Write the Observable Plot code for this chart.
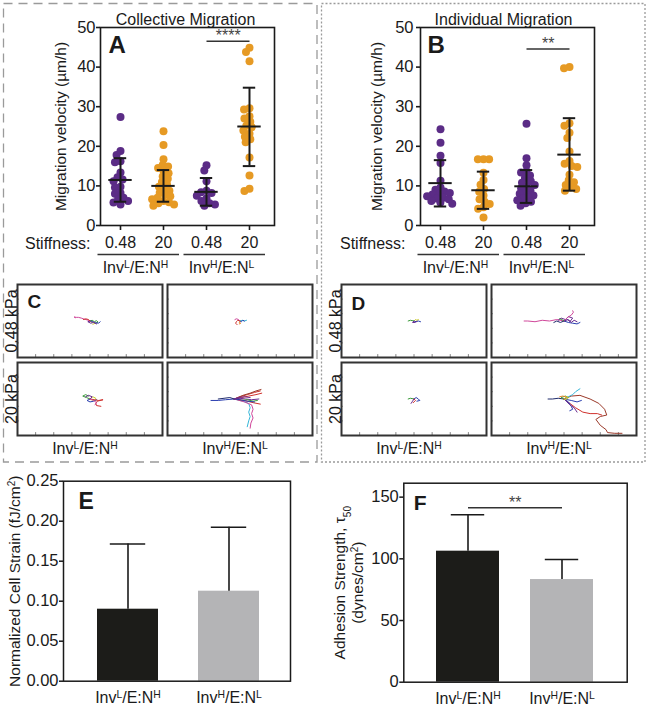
<!DOCTYPE html>
<html><head><meta charset="utf-8">
<script src="https://cdn.jsdelivr.net/npm/d3@7"></script>
<script src="https://cdn.jsdelivr.net/npm/@observablehq/plot@0.6"></script>
<style>
body{margin:0;background:#fff;}
#root{position:relative;width:649px;height:709px;overflow:hidden;background:#fff;}
</style></head><body><div id="root"></div>
<script>
// ---------------- DATA ----------------
// Panels A & B: categories (stiffness within invasiveness group)
const cats = ["L-0.48", "L-20", "H-0.48", "H-20"];
const stiffnessLabels = ["0.48", "20", "0.48", "20"];
const groupLabels = ["Inv^{L}/E:N^{H}", "Inv^{H}/E:N^{L}"];
const groupFirst = ["L-0.48", "H-0.48"];
const groupLast = ["L-20", "H-20"];

// Collective migration velocity (µm/h)
const colL048 = [27.4, 18.8, 17.8, 16.2, 16.0, 13.4, 12.2, 11.6, 11.2, 9.8, 9.6, 8.2, 8.0, 7.0, 6.6, 6.2, 5.8, 5.3];
const colL20 = [23.8, 20.3, 16.7, 15.3, 14.9, 14.5, 13.8, 13.2, 12.4, 11.8, 11.0, 10.4, 9.8, 9.2, 8.8, 8.3, 7.8, 7.4, 7.0, 6.6, 6.2, 5.9, 5.6, 5.3, 5.0];
const colH048 = [15.2, 13.9, 11.2, 8.8, 8.4, 8.2, 7.5, 6.8, 6.2, 5.6, 5.3, 5.0];
const colH20 = [44.9, 43.8, 41.5, 29.6, 29.3, 27.6, 27.0, 26.2, 25.2, 24.8, 24.0, 23.2, 22.4, 21.8, 21.0, 17.2, 12.6, 9.3, 8.7];
const colMean = [11.5, 10.0, 8.5, 25.0];
const colLo = [6.0, 6.0, 5.0, 15.0];
const colHi = [17.0, 14.0, 12.0, 34.8];

// Individual migration velocity (µm/h)
const indL048 = [24.3, 20.9, 17.6, 15.8, 11.3, 9.6, 9.0, 8.6, 8.2, 8.0, 7.8, 7.4, 7.0, 6.8, 6.6, 6.2, 5.8, 5.5];
const indL20 = [16.7, 16.7, 16.7, 13.3, 11.5, 10.3, 9.2, 8.5, 7.6, 6.6, 6.0, 5.4, 4.6, 4.2, 2.0];
const indH048 = [25.7, 17.0, 15.2, 13.7, 13.4, 12.6, 12.0, 11.2, 10.8, 10.2, 9.8, 9.4, 8.8, 8.4, 8.0, 7.6, 7.2, 6.8, 6.4, 6.0, 5.6, 5.0];
const indH20 = [40.0, 39.7, 25.8, 25.2, 23.4, 22.1, 18.7, 16.3, 15.6, 15.0, 14.8, 12.8, 11.4, 10.9, 10.2, 9.6, 9.2, 8.8];
const indMean = [10.7, 8.9, 9.9, 17.9];
const indLo = [4.8, 4.2, 5.7, 8.8];
const indHi = [16.5, 13.6, 14.0, 27.1];

// Significance annotations
const colSig = {from: "H-0.48", to: "H-20", y: 46.5, stars: "****"};
const indSig = {from: "H-0.48", to: "H-20", y: 44.6, stars: "**"};

// Panels C & D: trajectories [paletteIndex, [[x, y], ...]]
const trajCols = ["L", "H"];
const trajColLabels = ["Inv^{L}/E:N^{H}", "Inv^{H}/E:N^{L}"];
const trajRows = ["0.48 kPa", "20 kPa"];
const trajXTicks = [-75, -50, -25, 0, 25, 50, 75];
const trajYTicks = [-30, -10, 10, 30];

const trackC_L_048 = [
  [6, [[0,0],[-4,1.5],[-8,2.5],[-12,4],[-16,5],[-19,5],[-22,5.5],[-20,4.5]]],
  [3, [[0,0],[3,1],[6,-1],[9,0.5],[11,-1.5],[8,-3]]],
  [4, [[0,0],[2,-2],[5,-1],[7,-3],[4,-4.5]]],
  [1, [[0,0],[4,-1],[8,-2.5],[12,-3],[14,-1]]],
  [2, [[0,0],[-3,-1],[1,-3],[5,-2],[9,-4]]],
  [0, [[0,0],[-2,2],[-6,3],[-9,2]]]
];
const trackC_H_048 = [
  [0, [[0,0],[-3,1],[-5,-1],[-6,-3],[-4,-5]]],
  [5, [[0,0],[3,1],[6,0],[9,1]]],
  [6, [[0,0],[-2,2],[-5,3],[-7,2]]],
  [1, [[0,0],[2,-1],[4,1],[6,0]]],
  [8, [[0,0],[-1,-2],[1,-3],[-1,-4]]]
];
const trackC_L_20 = [
  [3, [[0,0],[-5,2],[-10,4],[-6,6],[-2,4]]],
  [4, [[0,0],[4,3],[8,1],[6,-2],[2,-1]]],
  [1, [[0,0],[-4,-2],[0,-4],[5,-3],[9,-1]]],
  [0, [[0,0],[6,-1],[12,-2],[18,-1],[10,-3],[8,-6],[9,-9],[15,-10]]],
  [2, [[0,0],[3,3],[-2,5],[-6,3]]],
  [6, [[0,0],[5,-2],[9,-5],[7,-8]]]
];
const trackC_H_20 = [
  [1, [[-8,0],[-20,-1],[-30,-2],[-40,-2]]],
  [0, [[-8,0],[0,3],[10,6],[20,9],[28,11]]],
  [0, [[-8,0],[2,2],[12,4],[22,6],[30,8]]],
  [7, [[-8,0],[4,5],[14,8],[22,11],[29,13]]],
  [2, [[-8,0],[0,1],[8,0],[16,-1],[26,0]]],
  [3, [[-8,0],[2,-2],[10,-1],[18,-3],[24,-2]]],
  [5, [[-8,0],[4,-3],[12,-6],[14,-12],[12,-18],[14,-24],[12,-30],[10,-38]]],
  [6, [[-8,0],[6,-4],[16,-8],[18,-14],[16,-20],[18,-26],[15,-33],[14,-40]]],
  [0, [[-8,0],[6,-2],[18,-5],[28,-7]]],
  [9, [[-8,0],[-14,2],[-22,1],[-30,0]]],
  [1, [[-8,0],[0,-1],[10,-3],[20,-4]]],
  [2, [[-8,0],[-2,2],[6,3],[14,2]]]
];
const trackD_L_048 = [
  [3, [[0,0],[-5,1],[-8,0]]],
  [1, [[0,0],[3,-1],[6,0],[9,-1]]],
  [4, [[0,0],[2,2],[4,1],[6,2]]],
  [2, [[0,0],[-2,-2],[2,-2],[4,0]]]
];
const trackD_H_048 = [
  [6, [[0,0],[-10,2],[-20,0],[-30,1],[-40,-1],[-50,0],[-55,0]]],
  [2, [[0,0],[4,3],[8,-1],[12,4],[6,6],[2,2],[-4,4],[-8,1]]],
  [1, [[0,0],[6,-2],[12,-3],[18,-4],[22,-2]]],
  [9, [[0,0],[-5,-2],[-10,0],[-14,-2]]],
  [6, [[0,0],[5,5],[10,8],[13,12],[12,14]]],
  [3, [[0,0],[-3,2],[-6,3]]],
  [2, [[0,0],[6,2],[10,-2],[14,1],[18,-1]]]
];
const trackD_L_20 = [
  [3, [[0,0],[-5,1],[-8,0]]],
  [1, [[0,0],[3,2],[6,0],[8,-2],[4,-3]]],
  [2, [[0,0],[-2,-3],[-4,-6]]],
  [0, [[0,0],[2,-2],[-1,-5]]]
];
const trackD_H_20 = [
  [7, [[0,0],[10,4],[22,5],[36,0],[48,-6],[56,-14],[59,-22],[50,-24],[44,-28],[50,-36],[58,-42],[60,-46],[70,-47],[80,-47]]],
  [0, [[0,0],[8,-6],[16,-12],[26,-18],[36,-20],[46,-20],[52,-22]]],
  [5, [[0,0],[6,3],[12,6],[16,10],[22,14]]],
  [1, [[0,0],[6,-4],[10,-10],[12,-14],[8,-16]]],
  [1, [[0,0],[10,-2],[18,-4],[24,-2]]],
  [9, [[0,0],[-8,1],[-16,0],[-22,0]]],
  [3, [[0,0],[-4,2],[2,4],[6,2]]],
  [8, [[0,0],[4,3],[-2,4],[-6,3]]],
  [2, [[0,0],[8,-8],[14,-12],[18,-18]]],
  [4, [[0,0],[3,-1],[6,2],[2,3]]]
];

// Panels E & F: bars
const barCats = ["L", "H"];
const barLabels = ["Inv^{L}/E:N^{H}", "Inv^{H}/E:N^{L}"];
const strainMean = [0.090, 0.1125];
const strainSD = [0.0815, 0.080];
const adhesionMean = [106.2, 83.2];
const adhesionSD = [29.5, 16.3];
const adhesionSig = {from: "L", to: "H", y: 141.4, stars: "**"};

// ---------------- STYLES ----------------
const FONT = '"Liberation Sans", Arial, Helvetica, sans-serif';
const INK = "#1a1a1a";
const catColors = ["#5b2c86", "#e69a24", "#5b2c86", "#e69a24"];
const barColors = ["#1c1c19", "#b4b4b6"];
const trackPalette = ["#d0312d", "#2b3fb0", "#6a2c91", "#3a9a3a", "#c9c92a", "#35b6d8", "#d0489b", "#9b3a2a", "#e3852b", "#1f2a6b"];
const baseStyle = {background: "transparent", fontFamily: FONT, color: INK, overflow: "visible"};

const root = document.getElementById("root");
const NS = "http://www.w3.org/2000/svg";

// render ^{..} / _{..} markup as super/subscripts
function richText(svg) {
  svg.querySelectorAll("text, tspan").forEach(el => {
    if (el.children.length) return;
    const s = el.textContent;
    if (!/[\^_]\{/.test(s)) return;
    el.textContent = "";
    const re = /([\^_])\{([^}]*)\}/g;
    let last = 0, m;
    while ((m = re.exec(s))) {
      if (m.index > last) el.appendChild(document.createTextNode(s.slice(last, m.index)));
      const t = document.createElementNS(NS, "tspan");
      t.setAttribute("baseline-shift", m[1] === "^" ? "super" : "sub");
      t.setAttribute("font-size", "65%");
      t.textContent = m[2];
      el.appendChild(t);
      last = re.lastIndex;
    }
    if (last < s.length) el.appendChild(document.createTextNode(s.slice(last)));
  });
}
function place(node, left, top) {
  node.style.position = "absolute";
  node.style.left = left + "px";
  node.style.top = top + "px";
  root.appendChild(node);
  richText(node);
}

// ---------------- decorative panel boxes ----------------
const deco = d3.create("svg").attr("width", 649).attr("height", 709);
deco.append("rect").attr("x", 3.5).attr("y", 3.5).attr("width", 313.5).attr("height", 458.5)
  .attr("fill", "none").attr("stroke", "#9a9a9a").attr("stroke-width", 1.3).attr("stroke-dasharray", "9 6");
deco.append("rect").attr("x", 321.5).attr("y", 3.5).attr("width", 323.5).attr("height", 458.5)
  .attr("fill", "none").attr("stroke", "#9a9a9a").attr("stroke-width", 1.3).attr("stroke-dasharray", "2 2");
place(deco.node(), 0, 0);

// ---------------- A & B ----------------
function dotPanel(o) {
  const rows = o.values.flatMap((vals, k) => vals.map(v => ({cat: cats[k], v, color: catColors[k]})));
  const stats = cats.map((cat, k) => ({cat, mean: o.mean[k], lo: o.lo[k], hi: o.hi[k]}));
  const groups = groupLabels.map((label, g) => ({label, first: groupFirst[g], last: groupLast[g]}));
  const common = {width: 325, height: 300, marginLeft: 100, marginRight: 51, marginTop: 27, marginBottom: 75, style: baseStyle};
  const band = {domain: cats, paddingInner: 0.2, paddingOuter: 0.108, align: 0.285};
  const base = Plot.plot({
    ...common,
    x: {type: "band", ...band},
    y: {domain: [0, 50]},
    marks: [
      Plot.frame({stroke: INK, strokeWidth: 1.6}),
      Plot.axisY({ticks: [0, 10, 20, 30, 40, 50], tickSize: 4, tickPadding: o.tickPad, fontSize: 16.5, label: null, strokeWidth: 1.6}),
      Plot.axisX({tickFormat: d => stiffnessLabels[cats.indexOf(d)], tickSize: 5, tickPadding: 6, fontSize: 16, label: null, strokeWidth: 1.6}),
      Plot.text([o.ylabel], {frameAnchor: "left", textAnchor: "middle", rotate: -90, lineAnchor: "top", dx: -o.labelOffset, fontSize: 15.5}),
      Plot.text([o.title], {frameAnchor: "top", lineAnchor: "bottom", dx: o.titleDx, dy: -3, fontSize: 16}),
      Plot.text([o.letter], {frameAnchor: "top-left", lineAnchor: "top", dx: o.letterDx, dy: 8, fontSize: 24, fontWeight: "bold"}),
      Plot.text(["Stiffness:"], {frameAnchor: "bottom-left", textAnchor: "end", lineAnchor: "bottom", dx: o.stiffDx, dy: 23, fontSize: 16}),
      Plot.ruleY(groups, {y: () => 0, x1: "first", x2: "last", dy: 29, insetLeft: -5.5, insetRight: 1, stroke: "#333", strokeWidth: 1.5}),
      Plot.text(groups, {x: "first", y: () => 0, text: "label", dx: 15, dy: 47, lineAnchor: "bottom", fontSize: 16}),
      Plot.link([o.sig], {x1: "from", x2: "to", y1: "y", y2: "y", stroke: "#333", strokeWidth: 1.5}),
      Plot.text([o.sig], {x: "from", y: "y", text: "stars", dx: 21.7, lineAnchor: "bottom", fontSize: 16, fill: "#444"})
    ]
  });
  const dots = Plot.plot({
    ...common,
    fx: {...band, axis: null},
    x: {domain: [-1, 1], axis: null},
    y: {domain: [0, 50], axis: null},
    color: {type: "identity"},
    marks: [
      Plot.dot(rows, Plot.dodgeX({anchor: "middle", padding: -2.4}, {fx: "cat", y: "v", r: 4, fill: "color"})),
      Plot.ruleX(stats, {fx: "cat", x: () => 0, y1: "lo", y2: "hi", stroke: INK, strokeWidth: 2}),
      Plot.tickY(stats, {fx: "cat", y: "mean", stroke: INK, strokeWidth: 2, insetLeft: 5.3, insetRight: 5.3}),
      Plot.tickY(stats, {fx: "cat", y: "lo", stroke: INK, strokeWidth: 2, insetLeft: 10.8, insetRight: 10.8}),
      Plot.tickY(stats, {fx: "cat", y: "hi", stroke: INK, strokeWidth: 2, insetLeft: 10.8, insetRight: 10.8})
    ]
  });
  return [base, dots];
}

const [aBase, aDots] = dotPanel({
  values: [colL048, colL20, colH048, colH20], mean: colMean, lo: colLo, hi: colHi,
  title: "Collective Migration", letter: "A", sig: colSig, ylabel: "Migration velocity (\u00b5m/h)",
  labelOffset: 46, titleDx: -2, letterDx: 8, stiffDx: -10, tickPad: 1
});
place(aBase, 0, 0); place(aDots, 0, 0);
const [bBase, bDots] = dotPanel({
  values: [indL048, indL20, indH048, indH20], mean: indMean, lo: indLo, hi: indHi,
  title: "Individual Migration", letter: "B", sig: indSig, ylabel: "Migration velocity (\u00b5m/h)",
  labelOffset: 50, titleDx: -4, letterDx: 7, stiffDx: -15, tickPad: 3
});
place(bBase, 320, 0); place(bDots, 320, 0);

// ---------------- C & D ----------------
function trajPanel(facets, letter, letterDy) {
  const rows = [];
  facets.forEach(([inv, stiff, tracks], f) =>
    tracks.forEach(([k, pts], t) =>
      pts.forEach(([x, y]) => rows.push({inv, stiff, id: f + "-" + t, color: trackPalette[k], x, y}))));
  return Plot.plot({
    width: 322, height: 182, marginLeft: 17, marginRight: 9, marginTop: 3, marginBottom: 26,
    style: baseStyle,
    fx: {domain: trajCols, paddingInner: 0.033, paddingOuter: 0, label: null},
    fy: {domain: trajRows, paddingInner: 0.063, paddingOuter: 0, label: null},
    x: {domain: [-100, 100], axis: null},
    y: {domain: [-50, 50], axis: null},
    color: {type: "identity"},
    marks: [
      Plot.ruleX(trajXTicks, {x: d => d, y1: () => -50, y2: () => -46, stroke: "#666", strokeWidth: 0.8}),
      Plot.ruleY(trajYTicks, {y: d => d, x1: () => -100, x2: () => -97.5, stroke: "#666", strokeWidth: 0.8}),
      Plot.line(rows, {fx: "inv", fy: "stiff", x: "x", y: "y", z: "id", stroke: "color", strokeWidth: 1}),
      Plot.frame({stroke: "#333", strokeWidth: 2}),
      Plot.axisFx({anchor: "bottom", tickSize: 0, tickPadding: 7, dx: -5, fontSize: 16, label: null,
        tickFormat: d => trajColLabels[trajCols.indexOf(d)]}),
      Plot.axisFy({anchor: "left", tickSize: 0, tickPadding: 1, tickRotate: -90, fontSize: 16, label: null}),
      Plot.text([{inv: "L", stiff: "0.48 kPa", letter}], {fx: "inv", fy: "stiff", text: "letter",
        frameAnchor: "top-left", lineAnchor: "top", dx: 10, dy: letterDy, fontSize: 19, fontWeight: "bold"})
    ]
  });
}
place(trajPanel([["L", "0.48 kPa", trackC_L_048], ["H", "0.48 kPa", trackC_H_048],
                 ["L", "20 kPa", trackC_L_20], ["H", "20 kPa", trackC_H_20]], "C", 10), 0, 280);
place(trajPanel([["L", "0.48 kPa", trackD_L_048], ["H", "0.48 kPa", trackD_H_048],
                 ["L", "20 kPa", trackD_L_20], ["H", "20 kPa", trackD_H_20]], "D", 12), 324, 280);

// ---------------- E & F ----------------
function barPanel(o) {
  const data = barCats.map((cat, k) => ({cat, mean: o.mean[k], sd: o.sd[k], color: barColors[k]}));
  return Plot.plot({
    width: o.width, height: 249, marginLeft: o.ml, marginRight: o.mr, marginTop: o.mt, marginBottom: o.mb,
    style: baseStyle,
    color: {type: "identity"},
    x: {type: "band", domain: barCats, paddingInner: o.pi, paddingOuter: o.po, align: o.align},
    y: {domain: o.yDomain},
    marks: [
      Plot.barY(data, {x: "cat", y: "mean", fill: "color"}),
      Plot.ruleX(data, {x: "cat", y1: "mean", y2: d => d.mean + d.sd, stroke: INK, strokeWidth: 1.6}),
      Plot.tickY(data, {x: "cat", y: d => d.mean + d.sd, stroke: INK, strokeWidth: 1.6, insetLeft: o.capInset, insetRight: o.capInset}),
      Plot.frame({stroke: INK, strokeWidth: 1.5}),
      Plot.axisY({ticks: o.ticks, tickFormat: o.fmt, tickSize: 4, tickPadding: 1, fontSize: 16.5, label: null, strokeWidth: 1.5}),
      Plot.axisX({tickFormat: d => barLabels[barCats.indexOf(d)], tickSize: 0, tickPadding: 10, fontSize: 16, label: null}),
      Plot.text([o.ylabel], {frameAnchor: "left", textAnchor: "middle", rotate: -90, lineAnchor: "top", dx: -o.labelOffset, fontSize: 15.5, lineHeight: 1.15}),
      Plot.text([o.letter], {frameAnchor: "top-left", lineAnchor: "top", dx: o.letterDx, dy: o.letterDy, fontSize: o.letterSize, fontWeight: "bold"}),
      ...(o.sig ? [
        Plot.link([o.sig], {x1: "from", x2: "to", y1: "y", y2: "y", stroke: "#333", strokeWidth: 1.5}),
        Plot.text([o.sig], {x: "from", y: "y", text: "stars", dx: o.halfStep, lineAnchor: "bottom", fontSize: 16, fill: "#444"})
      ] : [])
    ]
  });
}
place(barPanel({
  width: 325, ml: 63, mr: 35, mt: 20.7, mb: 28.3, pi: 0.394, po: 0.313, align: 0.53,
  mean: strainMean, sd: strainSD, yDomain: [0, 0.25], ticks: [0, 0.05, 0.10, 0.15, 0.20, 0.25], fmt: d3.format(".2f"),
  capInset: 12.8, ylabel: "Normalized Cell Strain (fJ/cm^{2})", labelOffset: 56,
  letter: "E", letterDx: 15, letterDy: 11, letterSize: 23
}), 0, 460);
place(barPanel({
  width: 324, ml: 78.3, mr: 22.3, mt: 22.7, mb: 27.3, pi: 0.335, po: 0.347, align: 0.493,
  mean: adhesionMean, sd: adhesionSD, yDomain: [0, 161.3], ticks: [0, 50, 100, 150], fmt: d3.format("d"),
  capInset: 14.8, ylabel: "Adhesion Strength, \u03c4_{50}\n(dynes/cm^{2})", labelOffset: 71,
  letter: "F", letterDx: 10, letterDy: 12, letterSize: 21, sig: adhesionSig, halfStep: 47.3
}), 325, 460);
</script>
</body></html>
